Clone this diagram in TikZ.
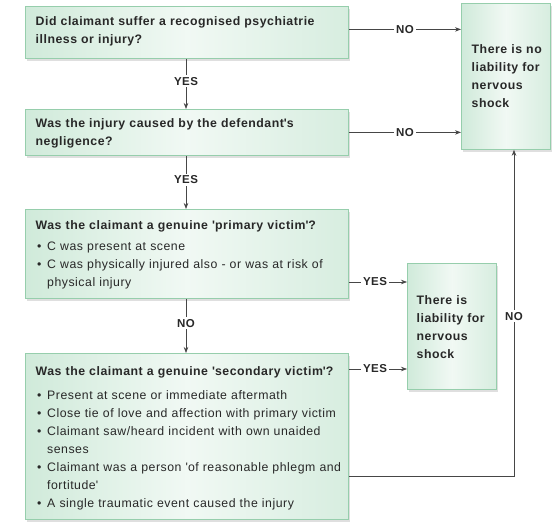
\documentclass[tikz,border=0pt]{standalone}
\usepackage{fontspec}
\setmainfont{Liberation Sans}[LetterSpace=4.2]
\usetikzlibrary{arrows.meta,shadows}
\definecolor{bgreen}{RGB}{150,206,172}
\definecolor{fgreen}{RGB}{208,234,218}
\definecolor{txt}{RGB}{40,40,40}
\definecolor{ln}{RGB}{70,70,70}
\newcommand\bitem[1]{\hangindent=11.5pt\hangafter=1\noindent\makebox[11.5pt][l]{\hspace{1.5pt}\textbullet}#1\par}
\begin{document}
\begin{tikzpicture}[x=1pt,y=-1pt,
 box/.style={draw=bgreen, line width=0.8pt, left color=fgreen, right color=fgreen!85!white, middle color=fgreen!30!white,
   anchor=north west, inner sep=0pt,
   drop shadow={opacity=0.25, shadow xshift=2pt, shadow yshift=-3pt}},
 btext/.style={inner sep=0pt, align=left, text=txt, font=\fontsize{12.3}{18}\selectfont},
 lab/.style={fill=white, inner sep=2pt, text=txt, font=\fontsize{11.5}{12}\selectfont\bfseries},
 conn/.style={draw=ln, line width=0.7pt},
 arr/.style={conn, -{Stealth[length=6pt,width=4.5pt]}}
]
\useasboundingbox (0,0) rectangle (556,526);

\node[box, minimum width=323pt, minimum height=52pt] (b1) at (25,6) {};
\node[btext, text width=315pt, anchor=west] (t1) at ([xshift=10.5pt,yshift=1.5pt]b1.west)
 {\bfseries Did claimant suffer a recognised psychiatrie\\illness or injury?};
\node[box, minimum width=323pt, minimum height=46pt] (b2) at (25,109) {};
\node[btext, text width=315pt, anchor=west] (t2) at ([xshift=10.5pt,yshift=-1pt]b2.west)
 {\bfseries Was the injury caused by the defendant\textquotesingle s\\negligence?};
\node[box, minimum width=323pt, minimum height=89pt] (b3) at (25,209) {};
\node[btext, text width=315pt, anchor=west] (t3) at ([xshift=10.5pt,yshift=-1pt]b3.west)
 {{\bfseries Was the claimant a genuine \textquotesingle primary victim\textquotesingle?}\par\vspace{3pt}
  \bitem{C was present at scene}
  \bitem{C was physically injured also - or was at risk of\break physical injury}};
\node[box, minimum width=323pt, minimum height=166pt] (b4) at (25,353) {};
\node[btext, text width=315pt, anchor=west] (t4) at ([xshift=10.5pt,yshift=-2pt]b4.west)
 {{\bfseries Was the claimant a genuine \textquotesingle secondary victim\textquotesingle?}\par\vspace{6pt}
  \bitem{Present at scene or immediate aftermath}
  \bitem{Close tie of love and affection with primary victim}
  \bitem{Claimant saw/heard incident with own unaided\break senses}
  \bitem{Claimant was a person \textquotesingle of reasonable phlegm and\break fortitude\textquotesingle}
  \bitem{A single traumatic event caused the injury}};
\node[box, minimum width=89pt, minimum height=146pt] (r1) at (461,3) {};
\node[btext, text width=76pt, anchor=west] (t5) at ([xshift=10.5pt]r1.west)
 {\bfseries There is no\\liability for\\nervous\\shock};
\node[box, minimum width=89pt, minimum height=126pt] (r2) at (407,263) {};
\node[btext, text width=76pt, anchor=west] (t6) at ([xshift=9.5pt,yshift=-1pt]r2.west)
 {\bfseries There is\\liability for\\nervous\\shock};

% NO arrows to r1
\draw[arr] ([yshift=3pt]b1.east) -- ([yshift=3pt]b1.east -| r1.west) node[lab, pos=0.5] (n1) {NO};
\draw[arr] ([yshift=0pt]b2.east) -- ([yshift=0pt]b2.east -| r1.west) node[lab, pos=0.5] (n2) {NO};
% vertical arrows
\coordinate (vx) at (186,0);
\draw[arr] (b1.south -| vx) -- (b2.north -| vx) node[lab, pos=0.45] (y1) {YES};
\draw[arr] (b2.south -| vx) -- (b3.north -| vx) node[lab, pos=0.45] (y2) {YES};
\draw[arr] (b3.south -| vx) -- (b4.north -| vx) node[lab, pos=0.45] (n3) {NO};
% YES arrows to r2
\draw[arr] ([yshift=-73pt]b3.north east) -- ([yshift=-73pt]b3.north east -| r2.west) node[lab, pos=0.45] (y3) {YES};
\draw[arr] ([yshift=-16pt]b4.north east) -- ([yshift=-16pt]b4.north east -| r2.west) node[lab, pos=0.45] (y4) {YES};
% loop
\coordinate (lc) at (514,476);
\draw[arr] (b4.east |- lc) -- (lc) -- (r1.south -| lc) node[lab, pos=0.49] (n4) {NO};
\end{tikzpicture}
\end{document}
